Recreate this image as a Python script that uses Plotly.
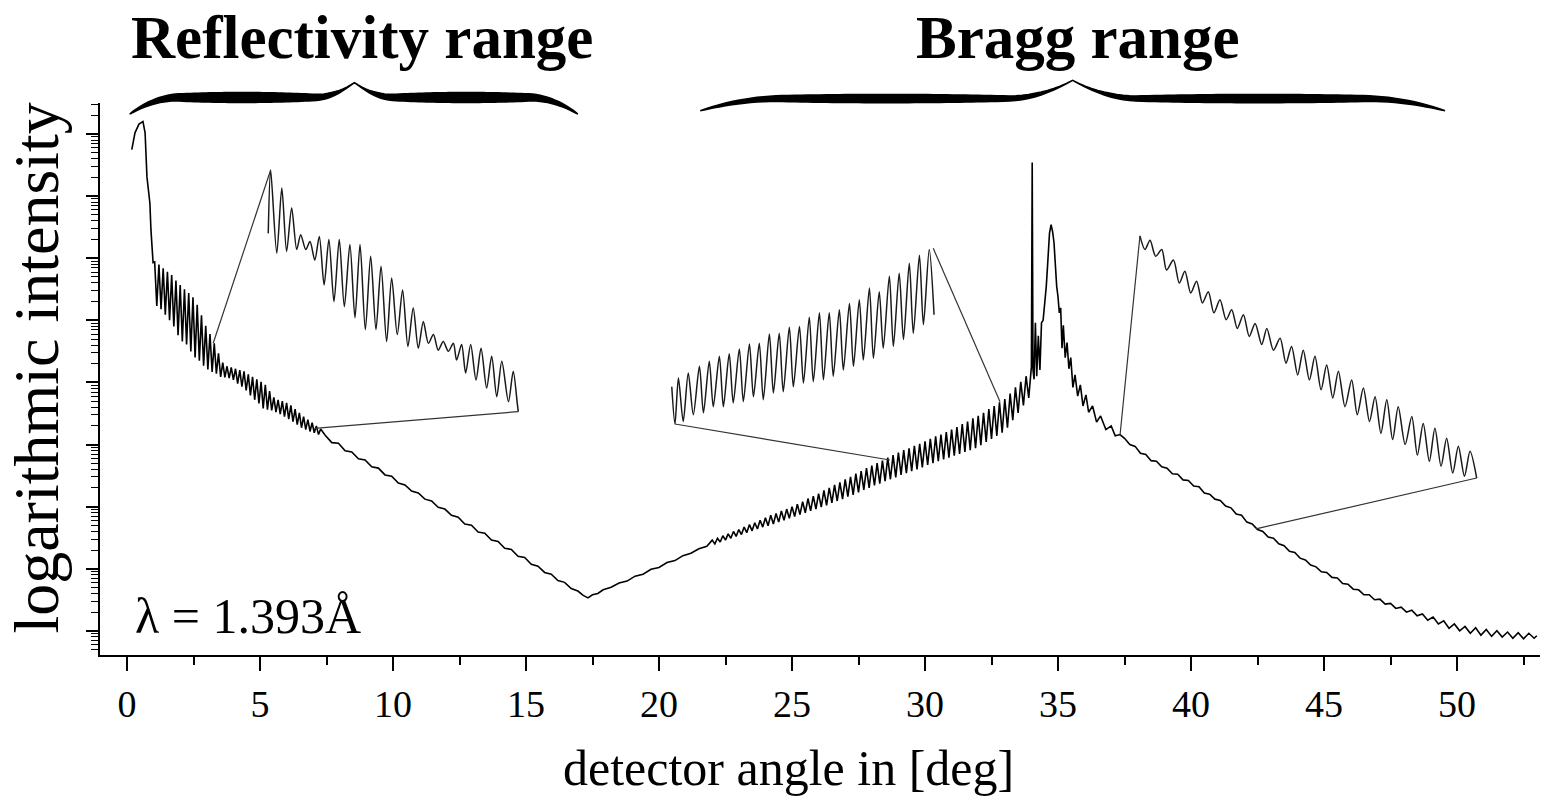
import plotly.graph_objects as go
import numpy as np

# ---------------- data (detector angle in deg, log10 intensity) ----------------
refl_start_deg = [0.18, 0.30, 0.45, 0.60, 0.68, 0.75, 0.86, 0.90, 0.98]
refl_start_log = [7.75, 8.02, 8.16, 8.20, 8.02, 7.31, 6.89, 6.46, 5.93]

refl_fringe_deg = [1.04, 1.12, 1.20, 1.28, 1.36, 1.44, 1.52, 1.60, 1.68, 1.76, 1.84, 1.92,
                   2.00, 2.08, 2.16, 2.24, 2.32, 2.40, 2.48, 2.56, 2.64, 2.72, 2.80, 2.88,
                   2.96, 3.04, 3.12, 3.20, 3.28, 3.36, 3.44, 3.52, 3.60, 3.68, 3.76, 3.84,
                   3.92, 4.00, 4.08, 4.16, 4.24, 4.32, 4.40, 4.48, 4.56, 4.64, 4.72, 4.80,
                   4.88, 4.96, 5.04, 5.12, 5.20, 5.28, 5.36, 5.44, 5.52, 5.60, 5.68, 5.76,
                   5.84, 5.92, 6.00, 6.08, 6.16, 6.24, 6.32, 6.40, 6.48, 6.56, 6.64, 6.72,
                   6.80, 6.88, 6.96, 7.04, 7.12, 7.20, 7.28]
refl_fringe_log = [5.94, 5.23, 5.90, 5.18, 5.84, 5.09, 5.78, 5.00, 5.73, 4.90, 5.64, 4.76,
                   5.57, 4.66, 5.50, 4.61, 5.44, 4.50, 5.37, 4.40, 5.25, 4.35, 5.08, 4.27,
                   4.91, 4.21, 4.78, 4.17, 4.63, 4.14, 4.47, 4.09, 4.32, 4.08, 4.26, 4.07,
                   4.24, 4.04, 4.22, 3.98, 4.20, 3.93, 4.18, 3.87, 4.13, 3.79, 4.09, 3.72,
                   4.05, 3.66, 4.01, 3.58, 3.96, 3.56, 3.86, 3.55, 3.76, 3.52, 3.72, 3.49,
                   3.70, 3.45, 3.67, 3.41, 3.63, 3.37, 3.57, 3.32, 3.51, 3.27, 3.45, 3.24,
                   3.40, 3.21, 3.35, 3.19, 3.30, 3.16, 3.25]

refl_tail_deg = [7.45, 7.70, 7.95, 8.20, 8.45, 8.70, 8.95, 9.20, 9.45, 9.70, 9.95, 10.20,
                 10.45, 10.70, 10.95, 11.20, 11.45, 11.70, 11.95, 12.20, 12.45, 12.70,
                 12.95, 13.20, 13.45, 13.70, 13.95, 14.20, 14.45, 14.70, 14.95, 15.20,
                 15.45, 15.70, 15.95, 16.20, 16.45, 16.70, 16.95, 17.15, 17.33]
refl_tail_log = [3.15, 3.03, 3.02, 2.90, 2.88, 2.77, 2.75, 2.64, 2.62, 2.51, 2.49, 2.38,
                 2.35, 2.25, 2.22, 2.12, 2.09, 1.99, 1.96, 1.86, 1.83, 1.72,
                 1.70, 1.59, 1.57, 1.46, 1.44, 1.33, 1.31, 1.20, 1.18, 1.07,
                 1.04, 0.94, 0.91, 0.81, 0.78, 0.68, 0.64, 0.57, 0.53]

bragg_rise_deg = [17.50, 17.70, 17.90, 18.20, 18.50, 18.80, 19.10, 19.40, 19.70, 20.00,
                  20.30, 20.60, 20.90, 21.20, 21.50, 21.80]
bragg_rise_log = [0.58, 0.60, 0.66, 0.70, 0.77, 0.80, 0.88, 0.91, 0.99, 1.02,
                  1.10, 1.13, 1.21, 1.25, 1.32, 1.36]

bragg_fringe_deg = [22.0, 22.1, 22.2, 22.3, 22.4, 22.5, 22.6, 22.7, 22.8, 22.9,
                    23.0, 23.1, 23.2, 23.3, 23.4, 23.5, 23.6, 23.7, 23.8, 23.9,
                    24.0, 24.1, 24.2, 24.3, 24.4, 24.5, 24.6, 24.7, 24.8, 24.9,
                    25.0, 25.1, 25.2, 25.3, 25.4, 25.5, 25.6, 25.7, 25.8, 25.9,
                    26.0, 26.1, 26.2, 26.3, 26.4, 26.5, 26.6, 26.7, 26.8, 26.9,
                    27.0, 27.1, 27.2, 27.3, 27.4, 27.5, 27.6, 27.7, 27.8, 27.9,
                    28.0, 28.1, 28.2, 28.3, 28.4, 28.5, 28.6, 28.7, 28.8, 28.9,
                    29.0, 29.1, 29.2, 29.3, 29.4, 29.5, 29.6, 29.7, 29.8, 29.9,
                    30.0, 30.1, 30.2, 30.3, 30.4, 30.5, 30.6, 30.7, 30.8, 30.9,
                    31.0, 31.1, 31.2, 31.3, 31.4, 31.5, 31.6, 31.7, 31.8, 31.9,
                    32.0, 32.1, 32.2, 32.3, 32.4, 32.5, 32.6, 32.7, 32.8, 32.9,
                    33.0, 33.1, 33.2, 33.3, 33.4, 33.5, 33.6, 33.7, 33.8, 33.9]
bragg_fringe_log = [1.46, 1.40, 1.49, 1.43, 1.53, 1.46, 1.56, 1.49, 1.60, 1.52,
                    1.63, 1.55, 1.67, 1.58, 1.71, 1.61, 1.74, 1.64, 1.78, 1.67,
                    1.82, 1.69, 1.86, 1.72, 1.89, 1.75, 1.93, 1.78, 1.96, 1.81,
                    2.00, 1.84, 2.04, 1.87, 2.08, 1.90, 2.13, 1.93, 2.17, 1.96,
                    2.21, 1.99, 2.26, 2.02, 2.30, 2.06, 2.35, 2.09, 2.39, 2.12,
                    2.44, 2.16, 2.48, 2.19, 2.53, 2.23, 2.57, 2.27, 2.62, 2.30,
                    2.66, 2.34, 2.70, 2.37, 2.74, 2.41, 2.79, 2.44, 2.83, 2.47,
                    2.87, 2.51, 2.91, 2.54, 2.94, 2.57, 2.98, 2.60, 3.01, 2.63,
                    3.05, 2.67, 3.09, 2.70, 3.13, 2.73, 3.16, 2.76, 3.20, 2.79,
                    3.24, 2.82, 3.28, 2.85, 3.33, 2.88, 3.37, 2.91, 3.42, 2.94,
                    3.46, 2.99, 3.51, 3.04, 3.57, 3.09, 3.62, 3.14, 3.68, 3.19,
                    3.73, 3.27, 3.82, 3.39, 3.92, 3.51, 4.01, 3.63, 4.10, 3.75]

peak_deg = [33.95, 34.00, 34.03, 34.06, 34.10, 34.15, 34.20, 34.26, 34.32, 34.38, 34.44,
            34.50, 34.56, 34.62, 34.68, 34.74, 34.80, 34.85, 34.90, 34.95, 35.00, 35.05,
            35.10, 35.15, 35.20, 35.27, 35.34, 35.41, 35.48, 35.56, 35.64, 35.74, 35.84,
            35.94, 36.05, 36.15, 36.30, 36.45, 36.60, 36.80, 37.00, 37.15, 37.33]
peak_log = [4.03, 4.25, 7.54, 4.20, 4.05, 4.96, 4.10, 4.75, 4.20, 4.96, 5.00,
            5.25, 5.55, 5.97, 6.40, 6.54, 6.42, 6.25, 5.86, 5.55, 5.38, 5.12,
            5.20, 4.55, 4.92, 4.40, 4.64, 4.22, 4.40, 3.92, 4.12, 3.78, 3.96,
            3.62, 3.80, 3.52, 3.62, 3.36, 3.46, 3.24, 3.30, 3.14, 3.16]

decay_deg = [37.5, 37.7, 37.9, 38.1, 38.3, 38.5, 38.7, 38.9, 39.1, 39.3, 39.5, 39.7, 39.9,
             40.1, 40.3, 40.5, 40.7, 40.9, 41.1, 41.3, 41.5, 41.7, 41.9, 42.1, 42.3, 42.5,
             42.7, 42.9, 43.1, 43.3, 43.5, 43.7, 43.9, 44.1, 44.3, 44.5, 44.7, 44.9, 45.1,
             45.3, 45.5, 45.7, 45.9, 46.1, 46.3, 46.5, 46.7, 46.9, 47.1, 47.3, 47.5, 47.7,
             47.9, 48.1, 48.3, 48.5, 48.7, 48.9, 49.1, 49.3, 49.5, 49.7, 49.9, 50.1, 50.3,
             50.5, 50.7, 50.9, 51.1, 51.3, 51.5, 51.7, 51.9, 52.1, 52.3, 52.5, 52.7, 52.9, 53.0]
decay_log = [3.10, 3.00, 2.97, 2.86, 2.84, 2.74, 2.73, 2.64, 2.62, 2.53, 2.52, 2.43, 2.42,
             2.33, 2.32, 2.22, 2.20, 2.12, 2.10, 2.01, 1.98, 1.88, 1.86, 1.75, 1.72, 1.63,
             1.60, 1.51, 1.49, 1.40, 1.37, 1.28, 1.26, 1.17, 1.14, 1.06, 1.03, 0.95, 0.94,
             0.86, 0.85, 0.76, 0.75, 0.67, 0.66, 0.58, 0.58, 0.50, 0.51, 0.43, 0.44, 0.36,
             0.38, 0.30, 0.33, 0.24, 0.27, 0.17, 0.22, 0.11, 0.16, 0.04, 0.11, 0.00, 0.07,
             -0.04, 0.05, -0.07, 0.02, -0.09, 0.00, -0.10, -0.02, -0.12, -0.03, -0.13, -0.04, -0.12, -0.08]

# magnified views (drawn at their place in the plot)
inset1_deg = [5.31, 5.40, 5.63, 5.82, 6.00, 6.19, 6.38, 6.53, 6.72, 6.88, 7.06, 7.23, 7.41,
              7.59, 7.78, 7.98, 8.17, 8.38, 8.57, 8.76, 8.96, 9.16, 9.36, 9.55, 9.76, 9.95,
              10.16, 10.36, 10.56, 10.76, 10.95, 11.14, 11.33, 11.52, 11.70, 11.89, 12.08,
              12.27, 12.39, 12.58, 12.73, 12.92, 13.12, 13.31, 13.52, 13.71, 13.90, 14.09,
              14.34, 14.52, 14.67, 14.71]
inset1_log = [6.40, 7.42, 6.08, 7.13, 6.11, 6.81, 6.14, 6.38, 6.14, 6.27, 5.97, 6.35, 5.57,
              6.30, 5.30, 6.30, 5.22, 6.22, 5.04, 6.22, 4.85, 6.03, 4.85, 5.87, 4.66, 5.68,
              4.77, 5.49, 4.58, 5.20, 4.55, 4.98, 4.63, 4.77, 4.52, 4.66, 4.50,
              4.63, 4.36, 4.61, 4.15, 4.61, 4.04, 4.55, 3.91, 4.42, 3.77, 4.34,
              3.69, 4.18, 3.67, 3.53]

inset2_deg = [20.48, 20.60, 20.73, 20.91, 21.10, 21.29, 21.52, 21.67, 21.89, 22.04, 22.27,
              22.42, 22.64, 22.79, 23.02, 23.17, 23.40, 23.55, 23.77, 23.92, 24.15, 24.30,
              24.52, 24.67, 24.90, 25.05, 25.28, 25.43, 25.65, 25.80, 26.03, 26.18, 26.40,
              26.55, 26.78, 26.93, 27.16, 27.31, 27.53, 27.68, 27.91, 28.06, 28.28, 28.43,
              28.66, 28.81, 29.03, 29.19, 29.41, 29.56, 29.79, 29.94, 30.16, 30.34]
inset2_log = [3.93, 3.33, 4.07, 3.37, 4.15, 3.48, 4.26, 3.51, 4.34, 3.61, 4.42,
              3.61, 4.46, 3.67, 4.54, 3.69, 4.62, 3.77, 4.63, 3.72, 4.78, 3.83,
              4.79, 3.85, 4.89, 3.93, 4.90, 3.99, 5.05, 4.01, 5.12, 4.04, 5.12,
              4.10, 5.17, 4.20, 5.27, 4.26, 5.33, 4.36, 5.52, 4.39, 5.46, 4.55,
              5.71, 4.58, 5.76, 4.69, 5.92, 4.79, 6.05, 4.93, 6.14, 5.09]

inset3_deg = [38.08, 38.27, 38.46, 38.67, 38.90, 39.08, 39.34, 39.56, 39.77, 39.99, 40.21,
              40.43, 40.65, 40.86, 41.09, 41.32, 41.53, 41.74, 41.97, 42.19, 42.41, 42.66,
              42.85, 43.10, 43.35, 43.57, 43.78, 44.01, 44.22, 44.45, 44.66, 44.89, 45.10,
              45.33, 45.54, 45.79, 46.04, 46.25, 46.48, 46.71, 46.92, 47.14, 47.36, 47.58,
              47.79, 48.05, 48.30, 48.51, 48.73, 48.96, 49.17, 49.40, 49.61, 49.84, 50.05,
              50.28, 50.49, 50.74]
inset3_log = [6.36, 6.14, 6.29, 6.03, 6.14, 5.81, 5.97, 5.60, 5.79, 5.44, 5.63,
              5.28, 5.46, 5.12, 5.33, 5.01, 5.17, 4.87, 5.09, 4.74, 4.95, 4.61,
              4.87, 4.52, 4.71, 4.31, 4.58, 4.12, 4.52, 4.04, 4.42, 3.88, 4.28,
              3.75, 4.18, 3.61, 4.04, 3.48, 3.91, 3.37, 3.77, 3.18, 3.72, 3.08,
              3.61, 3.00, 3.45, 2.83, 3.34, 2.73, 3.26, 2.65, 3.10, 2.54, 2.97,
              2.49, 2.89, 2.46]

# lines joining each magnified view to its place on the curve: (deg, log) pairs
connector_deg = [[3.24, 5.40], [14.71, 7.05], [20.60, 28.68], [30.31, 32.82], [37.33, 38.08], [50.74, 42.44]]
connector_log = [[4.63, 7.42], [3.53, 3.26], [3.33, 2.75], [6.16, 3.69], [3.14, 6.36], [2.46, 1.64]]

x_tick_vals = [0, 5, 10, 15, 20, 25, 30, 35, 40, 45, 50]
x_tick_labels = ["0", "5", "10", "15", "20", "25", "30", "35", "40", "45", "50"]

range_labels = ["Reflectivity range", "Bragg range"]
range_start = [0.10, 21.55]
range_end = [16.95, 49.55]
range_tip = [8.55, 35.55]

# ---------------- figure ----------------
SERIF = "Liberation Serif"
main_deg = refl_start_deg + refl_fringe_deg + refl_tail_deg + bragg_rise_deg + bragg_fringe_deg + peak_deg + decay_deg
main_log = refl_start_log + refl_fringe_log + refl_tail_log + bragg_rise_log + bragg_fringe_log + peak_log + decay_log

def inten(logs):
    return [10 ** v for v in logs]

fig = go.Figure()
fig.add_trace(go.Scatter(x=main_deg, y=inten(main_log), mode="lines",
                         line=dict(color="black", width=1.6), hoverinfo="skip"))
for dx, dl in [(inset1_deg, inset1_log), (inset2_deg, inset2_log), (inset3_deg, inset3_log)]:
    fig.add_trace(go.Scatter(x=dx, y=inten(dl), mode="lines",
                             line=dict(color="#1a1a1a", width=1.5, shape="spline", smoothing=0.8),
                             hoverinfo="skip"))
cx, cy = [], []
for dx, dl in zip(connector_deg, connector_log):
    cx += dx + [None]
    cy += inten(dl) + [None]
fig.add_trace(go.Scatter(x=cx, y=cy, mode="lines", line=dict(color="#333333", width=1.2),
                         hoverinfo="skip"))

# curly braces above the two ranges (decoration)
def brace_path(xl, xr, xt, ye, yb, yt, th):
    s = np.linspace(0, 1, 60)
    def center(s):
        out = np.where(s < 0.22, ye + (yb - ye) * (1 - (1 - s / 0.22) ** 2), yb)
        out = np.where(s > 0.82, yb + (yt - yb) * ((s - 0.82) / 0.18) ** 2, out)
        return out
    thick = th * np.sin(np.pi * np.clip(s * 1.0, 0, 1)) ** 0.7
    thick = np.where(s > 0.9, thick * (1 - (s - 0.9) / 0.1 * 0.7), thick)
    c = center(s)
    xs_left = xl + (xt - xl) * s
    xs_right = xr - (xr - xt) * s
    top = list(zip(xs_left, c + thick / 2)) + list(zip(xs_right[::-1], (c + thick / 2)[::-1]))
    bot = list(zip(xs_left, c - thick / 2)) + list(zip(xs_right[::-1], (c - thick / 2)[::-1]))
    pts = top + bot[::-1]
    return "M " + " L ".join(f"{x:.3f},{y:.4f}" for x, y in pts) + " Z"

brace_geom = [dict(ye=0.980, yb=1.010, yt=1.037, th=0.018), dict(ye=0.986, yb=1.008, yt=1.041, th=0.015)]
for i in range(2):
    g = brace_geom[i]
    fig.add_shape(type="path", xref="x", yref="paper",
                  path=brace_path(range_start[i], range_end[i], range_tip[i], g["ye"], g["yb"], g["yt"], g["th"]),
                  fillcolor="black", line=dict(color="black", width=1.5), layer="above")

label_x = [8.85, 35.75]
for i in range(2):
    fig.add_annotation(x=label_x[i], xref="x", y=1.118, yref="paper", text=f"<b>{range_labels[i]}</b>",
                       showarrow=False, xanchor="center", yanchor="middle",
                       font=dict(family=SERIF, size=61, color="black"))

fig.add_annotation(x=0.22, xref="x", y=0.07, yref="paper", text="λ = 1.393Å", showarrow=False,
                   xanchor="left", yanchor="middle", font=dict(family=SERIF, size=50, color="black"))
fig.add_annotation(x=0.478, xref="paper", y=-0.205, yref="paper", text="detector angle in [deg]",
                   showarrow=False, xanchor="center", yanchor="middle",
                   font=dict(family=SERIF, size=50, color="black"))
fig.add_annotation(x=-0.044, xref="paper", y=0.52, yref="paper", text="logarithmic intensity",
                   showarrow=False, textangle=-90, xanchor="center", yanchor="middle",
                   font=dict(family=SERIF, size=64, color="black"))

fig.update_layout(
    width=1550, height=807,
    margin=dict(l=100, r=10, t=103, b=152),
    paper_bgcolor="white", plot_bgcolor="white",
    showlegend=False,
    xaxis=dict(range=[-1.015, 53.12], tickmode="array", tickvals=x_tick_vals, ticktext=x_tick_labels,
               ticks="outside", ticklen=14, tickwidth=1.5, tickcolor="black",
               showline=True, linecolor="black", linewidth=2, showgrid=False, zeroline=False,
               tickfont=dict(family=SERIF, size=38, color="black"),
               minor=dict(tickmode="linear", tick0=0, dtick=2.5, ticks="outside", ticklen=8,
                          tickwidth=1.5, tickcolor="black", showgrid=False)),
    yaxis=dict(type="log", range=[-0.39, 8.50], dtick=1, ticks="outside", ticklen=12, tickwidth=1.5,
               tickcolor="black", showticklabels=False, showline=True, linecolor="black", linewidth=2,
               showgrid=False, zeroline=False,
               minor=dict(dtick="D1", ticks="outside", ticklen=7, tickwidth=1.2, tickcolor="black",
                          showgrid=False)),
)

fig.write_html("out.html")
